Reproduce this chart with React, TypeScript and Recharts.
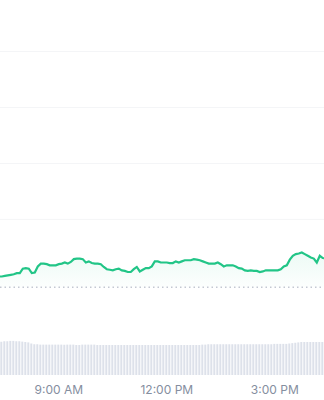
import React from "react"
import {
  ComposedChart,
  Area,
  Bar,
  XAxis,
  YAxis,
  CartesianGrid,
  ReferenceLine,
} from "recharts"

// 5-minute steps, minutes since midnight (07:20 .. 16:25)
const startMinute = 440
const stepMinutes = 5

const prices = [
  1639.8, 1639.8, 1639.9, 1640.0, 1640.1, 1640.2, 1640.4, 1640.4, 1641.2, 1641.3,
  1641.2, 1640.4, 1640.5, 1641.6, 1642.1, 1642.1, 1642.0, 1641.8, 1641.8, 1641.8,
  1642.0, 1642.1, 1642.3, 1642.1, 1642.4, 1642.9, 1643.0, 1643.0, 1642.9, 1642.3,
  1642.5, 1642.2, 1642.1, 1642.1, 1642.0, 1641.5, 1641.1, 1641.0, 1640.9, 1641.1,
  1641.2, 1640.9, 1640.8, 1640.6, 1640.6, 1641.1, 1641.5, 1640.7, 1641.0, 1641.3,
  1641.3, 1641.6, 1642.5, 1642.5, 1642.3, 1642.3, 1642.3, 1642.2, 1642.2, 1642.5,
  1642.3, 1642.5, 1642.7, 1642.7, 1642.7, 1642.9, 1642.8, 1642.7, 1642.5, 1642.3,
  1642.1, 1642.1, 1642.1, 1642.3, 1642.0, 1641.6, 1641.8, 1641.8, 1641.8, 1641.6,
  1641.3, 1641.2, 1640.9, 1640.8, 1640.9, 1640.8, 1640.8, 1640.6, 1640.7, 1640.9,
  1640.9, 1640.9, 1640.9, 1640.9, 1641.1, 1641.6, 1641.8, 1642.8, 1643.5, 1643.8,
  1643.9, 1644.1, 1643.8, 1643.5, 1643.2, 1643.0, 1642.3, 1643.5, 1643.1, 1643.0,
]

// volume, millions
const volumes = [
  88, 89, 90, 90, 91, 91, 90, 90, 89, 88,
  87, 84, 82, 82, 81, 81, 81, 81, 81, 81,
  81, 81, 81, 81, 81, 81, 80, 80, 81, 81,
  81, 81, 81, 80, 80, 80, 80, 80, 80, 80,
  80, 80, 80, 80, 80, 80, 80, 80, 80, 80,
  80, 80, 80, 80, 80, 80, 80, 80, 80, 80,
  80, 80, 80, 80, 80, 80, 80, 80, 81, 81,
  82, 82, 82, 82, 82, 82, 82, 82, 82, 82,
  82, 82, 82, 82, 82, 82, 82, 82, 82, 82,
  82, 82, 83, 83, 83, 83, 83, 84, 85, 86,
  87, 88, 88, 88, 88, 88, 88, 88, 88, 88,
]

const previousClose = 1637.9
const gridPrices = [1650, 1660, 1670, 1680]
const timeTicks = [540, 720, 900]
const timeLabels = ["9:00 AM", "12:00 PM", "3:00 PM"]

const data = prices.map((p, i) => ({
  t: startMinute + i * stepMinutes,
  price: p,
  volume: volumes[i],
}))

const fmtTime = (m: number) => {
  const i = timeTicks.indexOf(m)
  return i >= 0 ? timeLabels[i] : ""
}

export default function App() {
  return (
    <div style={{ position: "absolute", left: 0, top: 0, width: 324, height: 400, background: "#fff" }}>
      <ComposedChart
        width={324}
        height={400}
        data={data}
        margin={{ top: 0, right: 0, bottom: 0, left: 0 }}
      >
        <defs>
          <linearGradient id="upFill" x1="0" y1="0" x2="0" y2="1">
            <stop offset="0%" stopColor="#16c784" stopOpacity={0.13} />
            <stop offset="100%" stopColor="#16c784" stopOpacity={0.02} />
          </linearGradient>
        </defs>
        <CartesianGrid
          yAxisId="price"
          vertical={false}
          horizontalValues={gridPrices}
          stroke="#f4f5f7"
          strokeWidth={1}
        />
        <XAxis
          dataKey="t"
          type="number"
          domain={[442, 982]}
          allowDataOverflow
          ticks={timeTicks}
          tickFormatter={fmtTime}
          axisLine={false}
          tickLine={false}
          height={25}
          tickMargin={4}
          tick={{ fill: "#858ea0", fontSize: 12, fontFamily: "Inter, sans-serif" }}
        />
        <YAxis yAxisId="price" hide domain={[1622.2, 1689.2]} allowDataOverflow ticks={gridPrices} />
        <YAxis yAxisId="vol" hide domain={[0, 1000]} allowDataOverflow />
        <Bar
          yAxisId="vol"
          dataKey="volume"
          fill="#dde1ea"
          barSize={2}
          isAnimationActive={false}
        />
        <ReferenceLine
          yAxisId="price"
          y={previousClose}
          stroke="#c3c8d2"
          strokeDasharray="1.5 3"
          strokeWidth={1.5}
        />
        <Area
          yAxisId="price"
          dataKey="price"
          type="linear"
          baseValue={previousClose}
          stroke="#22c587"
          strokeWidth={2.2}
          fill="url(#upFill)"
          dot={false}
          activeDot={false}
          isAnimationActive={false}
        />
      </ComposedChart>
    </div>
  )
}
